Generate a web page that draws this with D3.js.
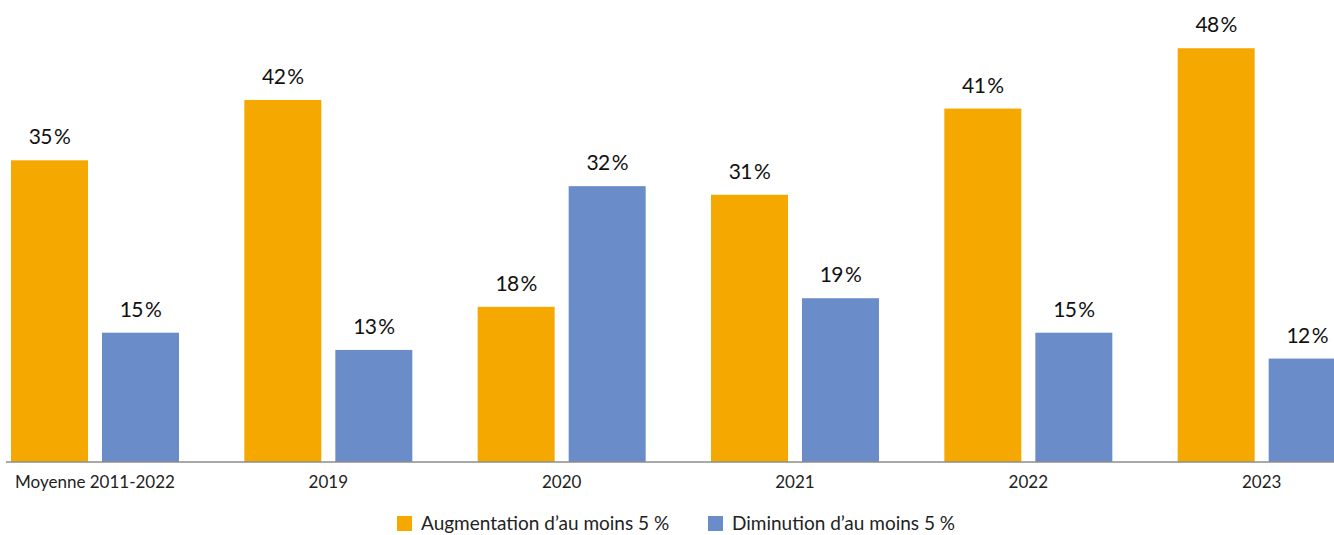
<!DOCTYPE html>
<html>
<head>
<meta charset="utf-8">
<script src="https://cdn.jsdelivr.net/npm/d3@7"></script>
<style>
  body { margin: 0; background: #fff; }
  text { font-family: "Lato", "Open Sans", sans-serif; }
</style>
</head>
<body>
<div id="chart"></div>
<script>
// data
var categories = ["Moyenne 2011-2022", "2019", "2020", "2021", "2022", "2023"];
var hausse = [35, 42, 18, 31, 41, 48];
var baisse = [15, 13, 32, 19, 15, 12];
var seriesNames = ["Augmentation d\u2019au moins 5 %", "Diminution d\u2019au moins 5 %"];
var colors = ["#F5A800", "#6A8CC8"];

var width = 1334, height = 535;

var svg = d3.select("#chart")
  .append("svg")
    .attr("width", width)
    .attr("height", height);

// x scale: one band per category
var x = d3.scaleBand()
  .domain(categories)
  .range([-21.7, 1378.3])
  .padding(0);

var inner = d3.scaleBand()
  .domain([0, 1])
  .range([32.7, 200.7])
  .paddingInner(0.154)
  .paddingOuter(0);

// y scale
var y = d3.scaleLinear()
  .domain([0, 50])
  .range([462, 31]);

var rows = [];
categories.forEach(function(c, i) {
  rows.push({cat: c, s: 0, v: hausse[i]});
  rows.push({cat: c, s: 1, v: baisse[i]});
});

// bars
svg.selectAll("rect.bar")
  .data(rows)
  .enter()
  .append("rect")
    .attr("class", "bar")
    .attr("x", function(d) { return x(d.cat) + inner(d.s); })
    .attr("y", function(d) { return y(d.v); })
    .attr("width", inner.bandwidth())
    .attr("height", function(d) { return y(0) - y(d.v); })
    .attr("fill", function(d) { return colors[d.s]; });

// value labels
svg.selectAll("text.val")
  .data(rows)
  .enter()
  .append("text")
    .attr("class", "val")
    .attr("x", function(d) { return x(d.cat) + inner(d.s) + inner.bandwidth() / 2; })
    .attr("y", function(d) { return y(d.v) - 16; })
    .attr("text-anchor", "middle")
    .attr("font-size", 21)
    .attr("letter-spacing", -0.6)
    .attr("fill", "#111")
    .text(function(d) { return d.v + "\u2009%"; });

// x axis
var xAxis = svg.append("g")
  .attr("transform", "translate(0," + y(0) + ")")
  .call(d3.axisBottom(x).tickSize(0).tickPadding(14));
xAxis.select(".domain").remove();
xAxis.append("line")
  .attr("x1", 6).attr("x2", width)
  .attr("stroke", "#8c8c8c").attr("stroke-width", 1.5);
xAxis.selectAll("text")
  .attr("font-size", 17)
  .attr("fill", "#222")
  .style("font-family", "Lato, 'Open Sans', sans-serif");

// legend
var legendX = [397, 708];
var legend = svg.selectAll("g.leg")
  .data(seriesNames)
  .enter()
  .append("g")
    .attr("class", "leg")
    .attr("transform", function(d, i) { return "translate(" + legendX[i] + ",516)"; });
legend.append("rect")
  .attr("width", 15).attr("height", 15)
  .attr("fill", function(d, i) { return colors[i]; });
legend.append("text")
  .attr("x", 24).attr("y", 14)
  .attr("font-size", 19)
  .attr("fill", "#222")
  .text(function(d) { return d; });
</script>
</body>
</html>
